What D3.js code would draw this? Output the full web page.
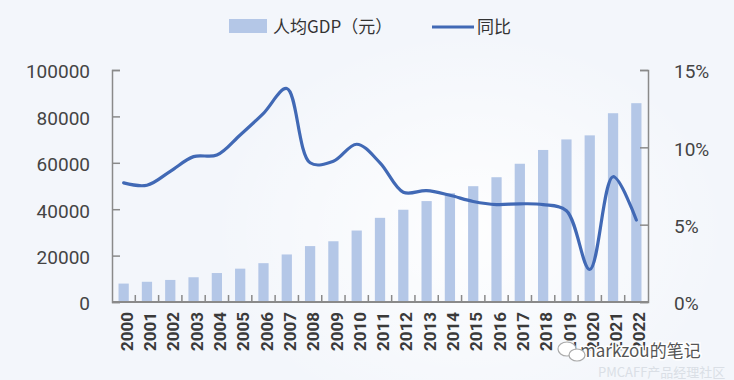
<!DOCTYPE html>
<html>
<head>
<meta charset="utf-8">
<script src="https://cdn.jsdelivr.net/npm/d3@7"></script>
<style>
  body { margin: 0; background: #f4f7fb; }
  svg { display: block; }
</style>
</head>
<body>
<svg id="chart" width="734" height="380"></svg>
<script>
const years = ['2000', '2001', '2002', '2003', '2004', '2005', '2006', '2007', '2008', '2009', '2010', '2011',
  '2012', '2013', '2014', '2015', '2016', '2017', '2018', '2019', '2020', '2021', '2022']
// 人均GDP (元)
const gdpPerCapita = [7942, 8717, 9506, 10666, 12487, 14368, 16738, 20494, 24100, 26180, 30808, 36277,
  39771, 43497, 46912, 49922, 53783, 59592, 65534, 70078, 71828, 81370, 85698]
// 同比 (%)
const growth = [7.7, 7.55, 8.45, 9.4, 9.5, 10.8, 12.2, 13.8, 9.0, 9.1, 10.2, 9.0,
  7.1, 7.2, 6.9, 6.5, 6.3, 6.35, 6.3, 5.9, 2.1, 8.1, 5.3]
const leftTicks = [0, 20000, 40000, 60000, 80000, 100000]
const rightTicks = [0, 5, 10, 15]

const svg = d3.select('#chart')
const W = 734
const H = 380
const m = { top: 70, right: 86, bottom: 78, left: 112 }

// background with a faint watermark glow
svg.append('rect').attr('width', W).attr('height', H).attr('fill', '#f3f6fb')
const defs = svg.append('defs')
const grad = defs.append('radialGradient').attr('id', 'glow')
grad.append('stop').attr('offset', '0%').attr('stop-color', '#ffffff').attr('stop-opacity', 0.9)
grad.append('stop').attr('offset', '100%').attr('stop-color', '#ffffff').attr('stop-opacity', 0)
svg.append('ellipse').attr('cx', 470).attr('cy', 230).attr('rx', 260).attr('ry', 200).attr('fill', 'url(#glow)')

const x = d3.scaleBand().domain(years).range([m.left, W - m.right]).paddingInner(0.56).paddingOuter(0.28)
const xb = d3.scaleBand().domain(years).range([m.left, W - m.right])
const yL = d3.scaleLinear().domain([0, 100000]).range([H - m.bottom, m.top])
const yR = d3.scaleLinear().domain([0, 15]).range([H - m.bottom, m.top])

const axisColor = '#8a8a8a'
const labelColor = '#444'

// bars
svg.append('g').selectAll('rect').data(years).join('rect')
  .attr('x', d => x(d))
  .attr('width', x.bandwidth())
  .attr('y', (d, i) => yL(gdpPerCapita[i]))
  .attr('height', (d, i) => yL(0) - yL(gdpPerCapita[i]))
  .attr('fill', '#b4c7e7')

// left axis
const gl = svg.append('g').attr('transform', `translate(${m.left},0)`)
  .call(d3.axisLeft(yL).tickValues(leftTicks).tickSize(-8).tickPadding(22).tickFormat(d3.format('d')))
gl.select('.domain').attr('stroke', axisColor).attr('stroke-width', 1.5)
gl.selectAll('.tick line').attr('stroke', axisColor).attr('stroke-width', 1.5)
gl.selectAll('.tick text').attr('fill', labelColor).attr('font-size', 19)
  .attr('font-family', 'Roboto, "Noto Sans", sans-serif').attr('dy', '0.42em')

// right axis
const gr = svg.append('g').attr('transform', `translate(${W - m.right},0)`)
  .call(d3.axisRight(yR).tickValues(rightTicks).tickSize(-8).tickPadding(26).tickFormat(d => d + '%'))
gr.select('.domain').attr('stroke', axisColor).attr('stroke-width', 1.5)
gr.selectAll('.tick line').attr('stroke', axisColor).attr('stroke-width', 1.5)
gr.selectAll('.tick text').attr('fill', labelColor).attr('font-size', 19)
  .attr('font-family', 'Roboto, "Noto Sans", sans-serif').attr('dy', '0.42em')

// bottom axis line + inward ticks at category boundaries
const base = yL(0)
svg.append('line').attr('x1', m.left).attr('x2', W - m.right).attr('y1', base).attr('y2', base)
  .attr('stroke', axisColor).attr('stroke-width', 1.8)
svg.append('g').selectAll('line').data(years.slice(1)).join('line')
  .attr('x1', d => xb(d)).attr('x2', d => xb(d))
  .attr('y1', base).attr('y2', base - 7)
  .attr('stroke', axisColor).attr('stroke-width', 1.5)

// year labels
svg.append('g').selectAll('text').data(years).join('text')
  .attr('transform', d => `translate(${xb(d) + xb.bandwidth() / 2 + 3},${base + 10}) rotate(-90)`)
  .attr('text-anchor', 'end')
  .attr('dy', '0.36em')
  .attr('font-size', 17)
  .attr('font-weight', 'bold')
  .attr('font-family', 'Roboto, "Noto Sans", sans-serif')
  .attr('fill', '#3a3a3a')
  .text(d => d)

// growth line
const line = d3.line()
  .x((d, i) => xb(years[i]) + xb.bandwidth() / 2)
  .y(d => yR(d))
  .curve(d3.curveCatmullRom.alpha(0.5))
svg.append('path').datum(growth)
  .attr('d', line)
  .attr('fill', 'none')
  .attr('stroke', '#4169b5')
  .attr('stroke-width', 3.2)
  .attr('stroke-linecap', 'round')

// legend
const lg = svg.append('g').attr('font-family', '"Noto Sans CJK SC", "Noto Sans", sans-serif')
  .attr('font-size', 17).attr('fill', '#333')
lg.append('rect').attr('x', 229).attr('y', 19).attr('width', 38).attr('height', 14).attr('fill', '#b4c7e7')
lg.append('text').attr('x', 273).attr('y', 33).text('人均GDP（元）')
lg.append('line').attr('x1', 432).attr('x2', 474).attr('y1', 27).attr('y2', 27)
  .attr('stroke', '#4169b5').attr('stroke-width', 3.2)
lg.append('text').attr('x', 477).attr('y', 33).text('同比')

// watermark
const wm = svg.append('g').attr('font-family', '"Noto Sans CJK SC", sans-serif')
wm.append('text').attr('x', 598).attr('y', 377).attr('font-size', 13).attr('fill', '#dadfe6')
  .text('PMCAFF产品经理社区')
wm.append('text').attr('x', 580).attr('y', 357).attr('font-size', 17)
  .attr('fill', '#555').attr('stroke', '#fff').attr('stroke-width', 3).attr('paint-order', 'stroke')
  .text('markzou的笔记')
wm.append('ellipse').attr('cx', 567).attr('cy', 349).attr('rx', 9).attr('ry', 7)
  .attr('fill', '#fff').attr('stroke', '#aaa').attr('stroke-width', 1.2)
wm.append('ellipse').attr('cx', 577).attr('cy', 355).attr('rx', 8).attr('ry', 6)
  .attr('fill', '#fff').attr('stroke', '#aaa').attr('stroke-width', 1.2)
</script>
</body>
</html>
